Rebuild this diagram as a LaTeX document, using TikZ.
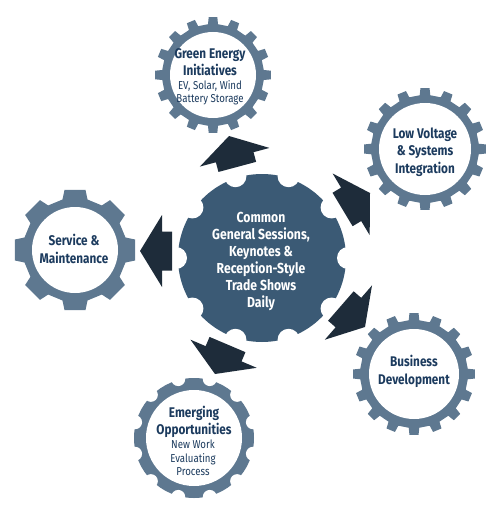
\documentclass[tikz,border=0pt]{standalone}
\usepackage{fontspec}
\setmainfont{Fira Sans}[FakeStretch=0.84]
\definecolor{gearc}{HTML}{5E7890}
\definecolor{centc}{HTML}{3B5A75}
\definecolor{arrc}{HTML}{1E2C3A}
\definecolor{txtc}{HTML}{1C3B5E}
\newcommand\mygear[8]{% x y r R N rootfrac tipfrac inner
\begin{scope}[shift={(#1,#2)}]
\pgfmathsetmacro\gp{360/#5}
\pgfmathtruncatemacro\gl{#5-1}
\fill[gearc] ({-#6*\gp}:#3) \foreach \k in {0,...,\gl} { -- ({(\k-#6)*\gp}:#3) -- ({(\k-#7)*\gp}:#4) -- ({(\k+#7)*\gp}:#4) -- ({(\k+#6)*\gp}:#3) } -- cycle;
\fill[white] (0,0) circle (#8);
\end{scope}}
\newcommand\scgear[9]{% x y R N notchr notchd offset color inner
\begin{scope}[shift={(#1,#2)}]
\fill[#8] (0,0) circle (#3);
\pgfmathsetmacro\gp{360/#4}
\foreach \k in {1,...,#4} \fill[white] ({\k*\gp+#7}:#6) circle (#5);
\fill[white] (0,0) circle (#9);
\end{scope}}
\newcommand\blockarrow[3]{\fill[arrc,shift={(#1,#2)},rotate=#3] (0,0) -- (-22,36) -- (-22,19.5) -- (-32,19.5) -- (-32,-19.5) -- (-22,-19.5) -- (-22,-36) -- cycle;}
\tikzset{
 ttl/.style={align=center, text=txtc, inner sep=0pt, font=\bfseries\fontsize{14}{17.5}\selectfont},
 sub/.style={align=center, text=txtc, inner sep=0pt, font=\fontsize{11.5}{13.5}\selectfont},
 ctr/.style={align=center, text=white, inner sep=0pt, font=\bfseries\fontsize{14.5}{17}\selectfont}
}
\begin{document}
\begin{tikzpicture}[x=1pt,y=-1pt]
\useasboundingbox (0,0) rectangle (500,516);
% central gear
\scgear{262}{258}{84}{10}{11}{86}{0}{centc}{0}
% outer gears
\mygear{213}{75}{51}{58}{16}{0.25}{0.19}{43}
\mygear{425}{149}{54}{61}{16}{0.25}{0.19}{46}
\mygear{75}{250}{52}{61}{8}{0.31}{0.22}{43}
\mygear{414}{374}{54}{61}{16}{0.25}{0.19}{45}
\scgear{194}{438}{60}{12}{7}{61}{15}{gearc}{48}
% arrows
\blockarrow{229}{136}{105}
\blockarrow{370}{193}{31}
\blockarrow{140}{251}{180}
\blockarrow{365}{327}{-41}
\blockarrow{215}{374}{-113}
% texts
\node[ctr] (c) at (261,261) {Common\\General Sessions,\\Keynotes \&\\Reception-Style\\Trade Shows\\Daily};
\node[ttl] (g1) at (210,62) {Green Energy\\Initiatives};
\node[sub] (g1s) at (210,92.5) {EV, Solar, Wind\\Battery Storage};
\node[ttl] (g2) at (425,152) {Low Voltage\\\& Systems\\Integration};
\node[ttl] (g3) at (74,249) {Service \&\\Maintenance};
\node[ttl] (g4) at (414,371.5) {Business\\Development};
\node[ttl] (g5) at (194,422) {Emerging\\Opportunities};
\node[sub] (g5s) at (193,458) {New Work\\Evaluating\\Process};
\end{tikzpicture}
\end{document}
